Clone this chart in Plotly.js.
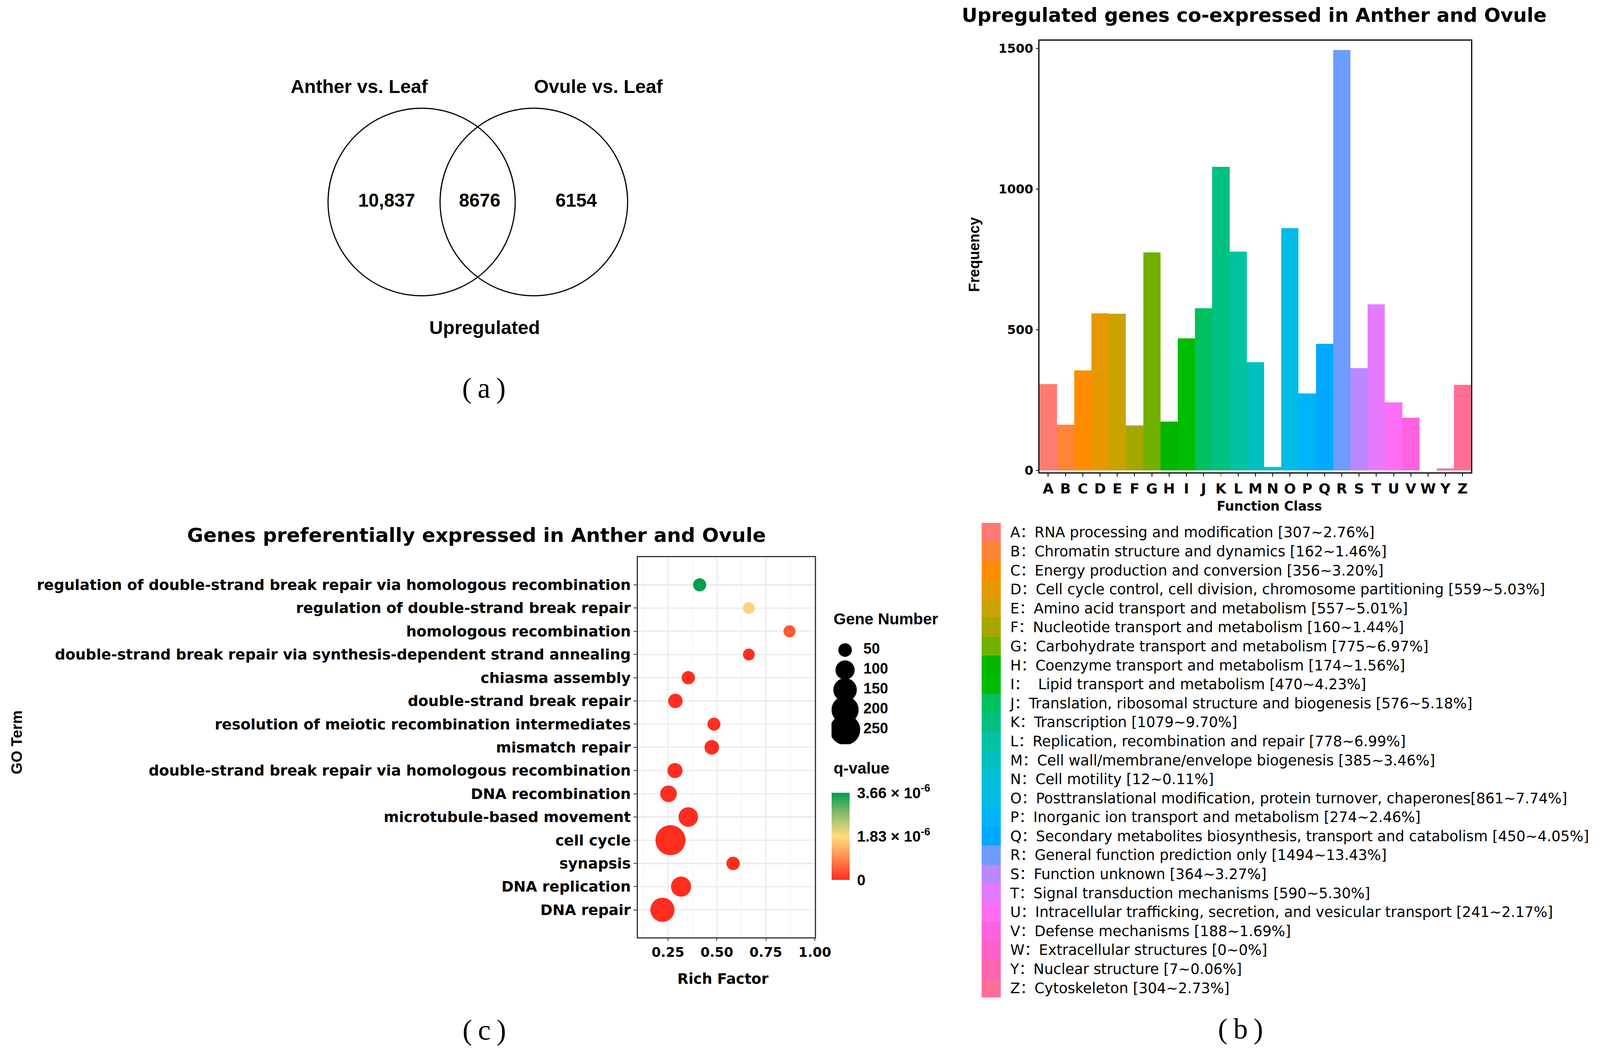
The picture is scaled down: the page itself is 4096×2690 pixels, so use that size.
<!DOCTYPE html>
<html>
<head>
<meta charset="utf-8">
<script src="https://cdn.plot.ly/plotly-3.0.1.min.js"></script>
<style>
html,body{margin:0;padding:0;background:#ffffff;}
#chart{width:4096px;height:2690px;}
</style>
</head>
<body>
<div id="chart"></div>
<script>
// ---------------- DATA ----------------
// (a) Venn diagram
const vennSets = ['Anther vs. Leaf', 'Ovule vs. Leaf'];
const vennRegionCounts = ['10,837', '8676', '6154']; // only anther, both, only ovule
const vennCaption = 'Upregulated';

// (b) COG function classes
const cogClasses = ['A','B','C','D','E','F','G','H','I','J','K','L','M','N','O','P','Q','R','S','T','U','V','W','Y','Z'];
const cogCounts = [307,162,356,559,557,160,775,174,470,576,1079,778,385,12,861,274,450,1494,364,590,241,188,0,7,304];
const cogLabels = [
  'A：RNA processing and modification [307~2.76%]',
  'B：Chromatin structure and dynamics [162~1.46%]',
  'C：Energy production and conversion [356~3.20%]',
  'D：Cell cycle control, cell division, chromosome partitioning [559~5.03%]',
  'E：Amino acid transport and metabolism [557~5.01%]',
  'F：Nucleotide transport and metabolism [160~1.44%]',
  'G：Carbohydrate transport and metabolism [775~6.97%]',
  'H：Coenzyme transport and metabolism [174~1.56%]',
  'I：\u00a0 Lipid transport and metabolism [470~4.23%]',
  'J：Translation, ribosomal structure and biogenesis [576~5.18%]',
  'K：Transcription [1079~9.70%]',
  'L：Replication, recombination and repair [778~6.99%]',
  'M：Cell wall/membrane/envelope biogenesis [385~3.46%]',
  'N：Cell motility [12~0.11%]',
  'O：Posttranslational modification, protein turnover, chaperones[861~7.74%]',
  'P：Inorganic ion transport and metabolism [274~2.46%]',
  'Q：Secondary metabolites biosynthesis, transport and catabolism [450~4.05%]',
  'R：General function prediction only [1494~13.43%]',
  'S：Function unknown [364~3.27%]',
  'T：Signal transduction mechanisms [590~5.30%]',
  'U：Intracellular trafficking, secretion, and vesicular transport [241~2.17%]',
  'V：Defense mechanisms [188~1.69%]',
  'W：Extracellular structures [0~0%]',
  'Y：Nuclear structure [7~0.06%]',
  'Z：Cytoskeleton [304~2.73%]'
];
const cogColors = ['#FF7B72','#FF8438','#FF8C00','#E69800','#C9A100','#A6A600','#72B000','#00B400','#00BC00','#00C060',
                   '#00C080','#00C3A2','#00C0C0','#00C0D8','#00BCE5','#00B4F8','#00A8FF','#6E9BFF','#BA88FF','#E57AFF',
                   '#FF6EF5','#FF62E0','#FF61C8','#FF65B0','#FF6E96'];
const cogYTicks = [0, 500, 1000, 1500];

// (c) GO enrichment
const goTerms = [
  'regulation of double-strand break repair via homologous recombination',
  'regulation of double-strand break repair',
  'homologous recombination',
  'double-strand break repair via synthesis-dependent strand annealing',
  'chiasma assembly',
  'double-strand break repair',
  'resolution of meiotic recombination intermediates',
  'mismatch repair',
  'double-strand break repair via homologous recombination',
  'DNA recombination',
  'microtubule-based movement',
  'cell cycle',
  'synapsis',
  'DNA replication',
  'DNA repair'
];
const richFactor = [0.412, 0.663, 0.871, 0.663, 0.354, 0.288, 0.485, 0.474, 0.286, 0.253, 0.354, 0.263, 0.583, 0.317, 0.222];
const geneNumber = [47, 38, 40, 38, 48, 57, 46, 58, 62, 75, 104, 246, 49, 110, 159];
const qValue = [3.66e-6, 1.72e-6, 4.5e-7, 2.0e-8, 6.0e-9, 3.0e-9, 1.5e-8, 4.0e-9, 2.0e-10, 1.0e-11, 5.0e-12, 1.0e-15, 8.0e-9, 3.0e-12, 1.0e-14];
const richTicks = [0.25, 0.50, 0.75, 1.00];
const sizeLegendValues = [50, 100, 150, 200, 250];
const qTickValues = [0, 1.83e-6, 3.66e-6];
const qTickText = ['0', '1.83 × 10<sup>-6</sup>', '3.66 × 10<sup>-6</sup>'];

// ---------------- LAYOUT HELPERS ----------------
const RW = 4214, RH = 2768, S = 4096 / 4214;
const X = v => v / RW;
const Y = v => 1 - v / RH;
const F = s => s * S;
const SANS = 'Liberation Sans, Arial, sans-serif';
const WIDE = 'DejaVu Sans, Noto Sans CJK SC, sans-serif';
const SERIF = 'Liberation Serif, DejaVu Serif, serif';

function ann(text, x, y, size, opts) {
  return Object.assign({
    text: text, x: X(x), y: Y(y), xref: 'paper', yref: 'paper',
    xanchor: 'center', yanchor: 'middle', showarrow: false,
    font: {family: SANS, size: F(size), color: '#000', weight: 'bold'}
  }, opts || {});
}
function panelLabel(letter, x, y) {
  return ann('(\u2009' + letter + '\u2009)', x, y, 76, {font: {family: SERIF, size: F(76), color: '#000'}});
}

const qScale = [[0, '#FF2D1F'], [0.25, '#FF8B4F'], [0.5, '#FFDC82'], [0.75, '#8FBC6B'], [1, '#009E50']];
const sizeRef = 250 / Math.pow(F(56.5), 2);

// ---------------- TRACES ----------------
const traces = [];

// (b) bar chart
traces.push({
  type: 'bar', x: cogClasses, y: cogCounts, xaxis: 'x', yaxis: 'y',
  marker: {color: cogColors, line: {width: 0}}, width: 1, showlegend: false
});

// (b) legend strip with labels
traces.push({
  type: 'bar', orientation: 'h', y: cogClasses, x: cogClasses.map(() => 1),
  xaxis: 'x3', yaxis: 'y3', width: 1,
  marker: {color: cogColors, line: {width: 0}}, showlegend: false, hoverinfo: 'skip'
});

// (c) bubble plot
traces.push({
  type: 'scatter', mode: 'markers', x: richFactor, y: goTerms, xaxis: 'x2', yaxis: 'y2',
  marker: {
    size: geneNumber, sizemode: 'area', sizeref: sizeRef, sizemin: 2,
    color: qValue, colorscale: qScale, cmin: 0, cmax: 3.66e-6, line: {width: 0}, opacity: 1,
    showscale: true,
    colorbar: {
      x: X(2190), xanchor: 'left', y: Y(2088), yanchor: 'top',
      len: F(229), lenmode: 'pixels', thickness: F(47), thicknessmode: 'pixels',
      xpad: 0, ypad: 0, outlinewidth: 0,
      tickvals: qTickValues, ticktext: qTickText,
      ticks: 'outside', ticklen: F(12), tickcolor: 'rgba(0,0,0,0)',
      tickfont: {family: SANS, size: F(40), color: '#000', weight: 'bold'}
    }
  },
  showlegend: false
});

// (c) size legend
traces.push({
  type: 'scatter', mode: 'markers', x: sizeLegendValues.map(() => 0.17), y: sizeLegendValues,
  xaxis: 'x4', yaxis: 'y4',
  marker: {size: sizeLegendValues, sizemode: 'area', sizeref: sizeRef, color: '#000', opacity: 1, line: {width: 0}},
  showlegend: false, hoverinfo: 'skip'
});
traces.push({
  type: 'scatter', mode: 'text', x: sizeLegendValues.map(() => 0.40), y: sizeLegendValues,
  text: sizeLegendValues.map(String), textposition: 'middle right',
  xaxis: 'x4', yaxis: 'y4',
  textfont: {family: SANS, size: F(39), color: '#000', weight: 'bold'},
  showlegend: false, hoverinfo: 'skip'
});

// ---------------- LAYOUT ----------------
const layout = {
  width: 4096, height: 2690,
  margin: {l: 0, r: 0, t: 0, b: 0, pad: 0},
  paper_bgcolor: '#ffffff', plot_bgcolor: 'rgba(0,0,0,0)',
  showlegend: false, bargap: 0,
  // bar chart
  xaxis: {
    domain: [X(2738), X(3875)], anchor: 'y', type: 'category', range: [-0.5, 24.5],
    showline: true, mirror: true, linecolor: '#000', linewidth: F(3),
    ticks: 'outside', ticklen: F(8), tickwidth: F(2), tickcolor: '#000',
    tickfont: {family: WIDE, size: F(37), color: '#000', weight: 'bold'},
    showgrid: false, zeroline: false, fixedrange: true
  },
  yaxis: {
    domain: [Y(1244), Y(107)], anchor: 'x', range: [-7, 1528],
    tickvals: cogYTicks, ticktext: cogYTicks.map(String),
    showline: true, mirror: true, linecolor: '#000', linewidth: F(3),
    ticks: 'outside', ticklen: F(7), tickwidth: F(2), tickcolor: '#000',
    tickfont: {family: WIDE, size: F(33), color: '#000', weight: 'bold'},
    showgrid: false, zeroline: false, fixedrange: true
  },
  // bubble plot
  xaxis2: {
    domain: [X(1680), X(2146)], anchor: 'y2', range: [0.0966, 1.0],
    tickvals: richTicks, ticktext: richTicks.map(v => v.toFixed(2)),
    showline: true, mirror: true, linecolor: '#333', linewidth: F(3),
    ticks: 'outside', ticklen: F(6), tickwidth: F(2), tickcolor: '#333',
    tickfont: {family: WIDE, size: F(35), color: '#000', weight: 'bold'},
    showgrid: true, gridcolor: '#EBEBEB', gridwidth: F(3.3),
    minor: {tickvals: [0.125, 0.375, 0.625, 0.875], showgrid: true, gridcolor: '#F3F3F3', gridwidth: F(2), ticks: ''},
    zeroline: false, fixedrange: true
  },
  yaxis2: {
    domain: [Y(2469), Y(1467)], anchor: 'x2', type: 'category', categoryarray: goTerms,
    range: [15.19, -1.2],
    showline: true, mirror: true, linecolor: '#333', linewidth: F(3),
    ticks: 'outside', ticklen: F(8), tickwidth: F(2), tickcolor: '#333',
    tickfont: {family: WIDE, size: F(38.5), color: '#000', weight: 'bold'},
    showgrid: true, gridcolor: '#EBEBEB', gridwidth: F(3.3),
    zeroline: false, fixedrange: true
  },
  // COG legend strip
  xaxis3: {domain: [X(2585), X(2636)], anchor: 'y3', range: [0, 1], visible: false, fixedrange: true},
  yaxis3: {
    domain: [Y(2627), Y(1377)], anchor: 'x3', type: 'category', categoryarray: cogClasses,
    range: [24.5, -0.5], side: 'right',
    tickvals: cogClasses, ticktext: cogLabels, ticks: 'outside', ticklen: F(16), tickcolor: 'rgba(0,0,0,0)',
    tickfont: {family: WIDE, size: F(38), color: '#000'},
    showline: false, showgrid: false, zeroline: false, fixedrange: true
  },
  // size legend
  xaxis4: {domain: [X(2190), X(2400)], anchor: 'y4', range: [0, 1], visible: false, fixedrange: true},
  yaxis4: {domain: [Y(1960), Y(1680)], anchor: 'x4', range: [286.2, 19.5], visible: false, fixedrange: true},
  shapes: [
    {type: 'circle', xref: 'paper', yref: 'paper', x0: X(864), x1: X(1357), y0: Y(779), y1: Y(285),
     line: {color: '#000', width: F(3)}, fillcolor: 'rgba(0,0,0,0)'},
    {type: 'circle', xref: 'paper', yref: 'paper', x0: X(1159), x1: X(1653), y0: Y(779), y1: Y(285),
     line: {color: '#000', width: F(3)}, fillcolor: 'rgba(0,0,0,0)'}
  ],
  annotations: [
    // (a)
    ann(vennSets[0], 947, 227, 50),
    ann(vennSets[1], 1576, 227, 50),
    ann(vennRegionCounts[0], 1019, 527, 49),
    ann(vennRegionCounts[1], 1263, 527, 49),
    ann(vennRegionCounts[2], 1518, 527, 49),
    ann(vennCaption, 1276, 862, 50),
    panelLabel('a', 1275, 1022),
    // (b)
    ann('Upregulated genes co-expressed in Anther and Ovule', 3303, 40, 51, {font: {family: WIDE, size: F(51), color: '#000', weight: 'bold'}}),
    ann('Frequency', 2566, 670, 39, {textangle: -90}),
    ann('Function Class', 3344, 1333, 34, {font: {family: WIDE, size: F(34), color: '#000', weight: 'bold'}}),
    panelLabel('b', 3268, 2709),
    // (c)
    ann('Genes preferentially expressed in Anther and Ovule', 1255, 1409, 52, {font: {family: WIDE, size: F(52), color: '#000', weight: 'bold'}}),
    ann('GO Term', 44, 1955, 40, {textangle: -90}),
    ann('Rich Factor', 1904, 2578, 38, {font: {family: WIDE, size: F(38), color: '#000', weight: 'bold'}}),
    ann('Gene Number', 2193, 1630, 42, {xanchor: 'left'}),
    ann('q-value', 2193, 2023, 42, {xanchor: 'left'}),
    panelLabel('c', 1276, 2712)
  ]
};

Plotly.newPlot('chart', traces, layout, {staticPlot: true, displayModeBar: false});
</script>
</body>
</html>
